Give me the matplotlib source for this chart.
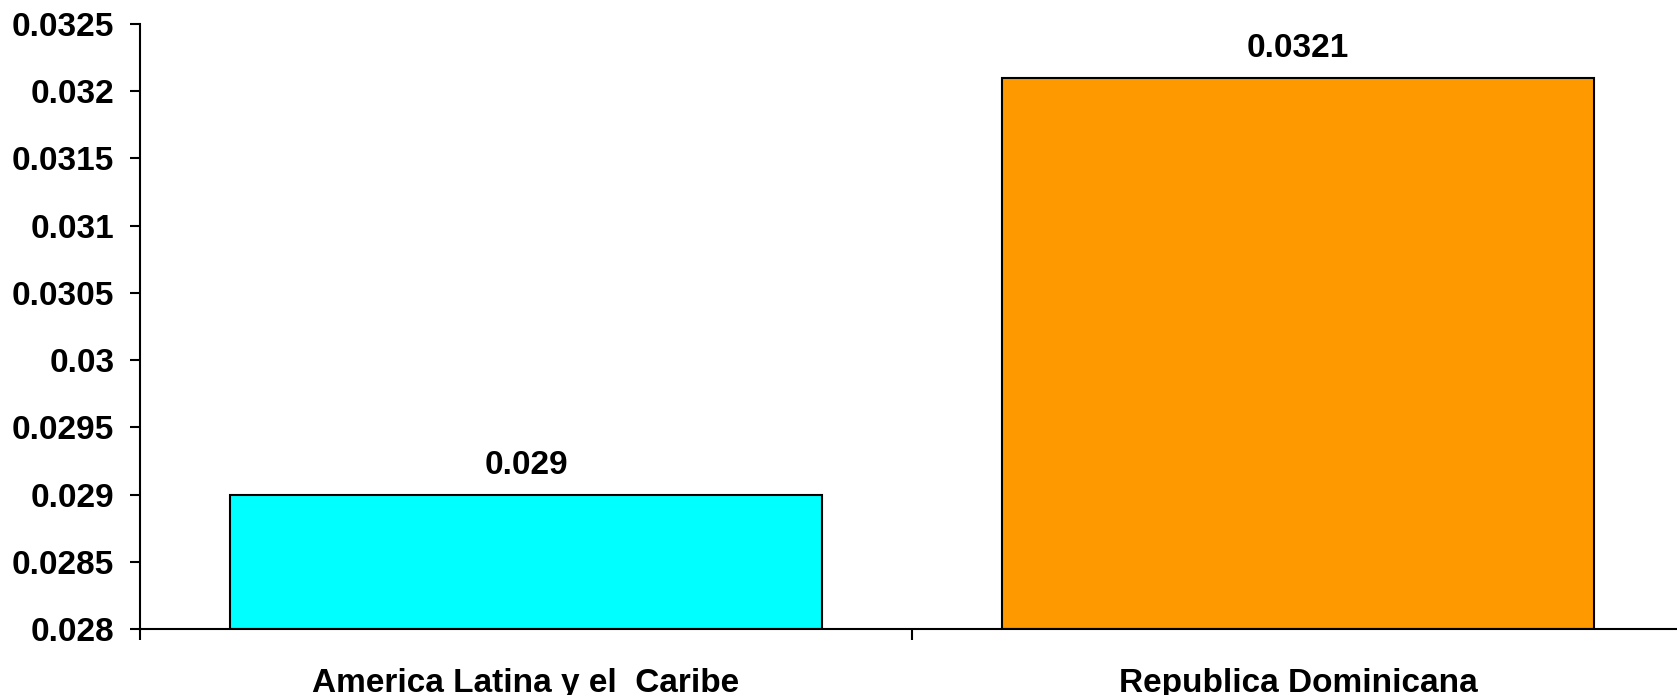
import matplotlib
matplotlib.use("Agg")
import matplotlib.pyplot as plt

# dati del grafico
categorie = ["America Latina y el  Caribe", "Republica Dominicana"]
valori = [0.029, 0.0321]
etichette = ["0.029", "0.0321"]
colori = ["#00FFFF", "#FF9900"]
yticks = [0.028, 0.0285, 0.029, 0.0295, 0.03, 0.0305, 0.031, 0.0315, 0.032, 0.0325]
ytick_lab = ["0.028", "0.0285", "0.029", "0.0295", "0.03", "0.0305", "0.031", "0.0315", "0.032", "0.0325"]

plt.rcParams["font.family"] = ["Liberation Sans", "DejaVu Sans"]
plt.rcParams["font.weight"] = "bold"

fig = plt.figure(figsize=(16.77, 6.95), dpi=100)
ax = fig.add_axes([140/1677, 66/695, 1544/1677, 605/695])

x = [0.5, 1.5]
ax.bar(x, [v - 0.028 for v in valori], bottom=0.028, width=0.767,
       color=colori, edgecolor="black", linewidth=1.5)

for xi, v, t in zip(x, valori, etichette):
    ax.annotate(t, (xi, v), xytext=(0, 15), textcoords="offset points",
                ha="center", va="baseline", fontsize=24, fontweight="bold")

ax.set_xlim(0, 2)
ax.set_ylim(0.028, 0.0325)
ax.set_yticks(yticks)
ax.set_yticklabels(ytick_lab, fontsize=24, fontweight="bold")
ax.set_xticks([0, 1, 2])
ax.set_xticklabels([])
ax.set_xticks(x, minor=True)
ax.set_xticklabels(categorie, minor=True, fontsize=24, fontweight="bold")
ax.tick_params(axis="x", which="minor", length=0, pad=28)
ax.tick_params(axis="x", which="major", length=8, width=1.5, direction="out")
ax.tick_params(axis="y", length=7.5, width=1.5, direction="out", pad=11)

for s in ["top", "right"]:
    ax.spines[s].set_visible(False)
for s in ["left", "bottom"]:
    ax.spines[s].set_linewidth(1.5)
    ax.spines[s].set_color("black")

fig.savefig("out.png", dpi=100)
